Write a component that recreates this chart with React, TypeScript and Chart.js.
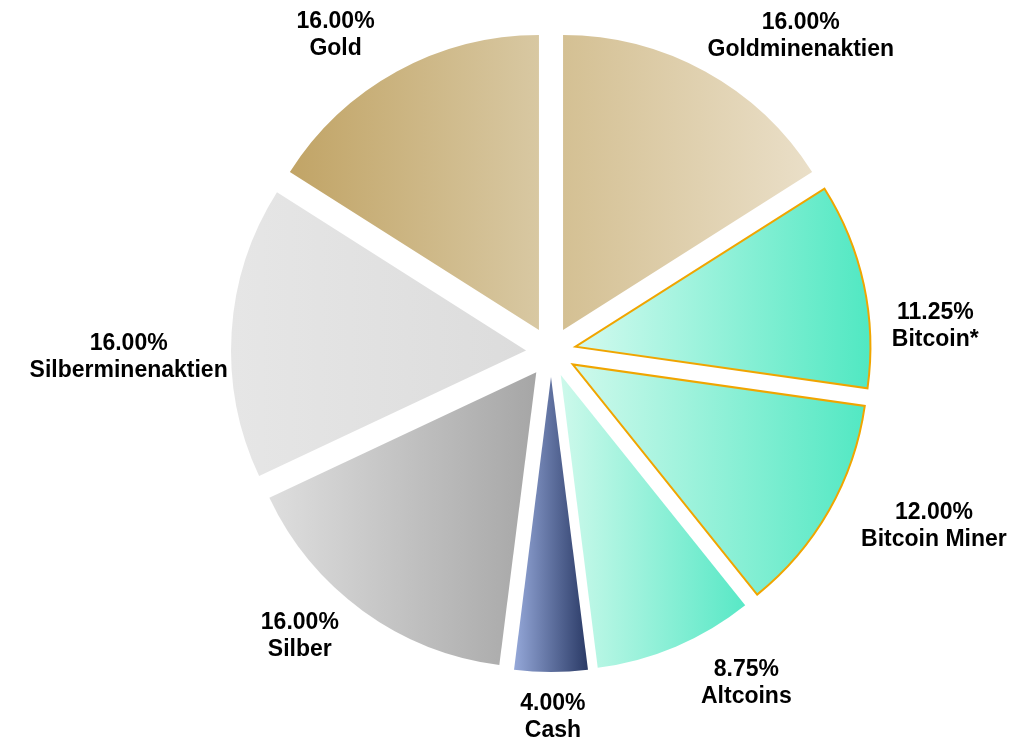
import React, { useEffect, useRef } from 'react';
import { Chart, registerables } from 'chart.js';

Chart.register(...registerables);

const categories = ['Goldminenaktien', 'Bitcoin*', 'Bitcoin Miner', 'Altcoins', 'Cash', 'Silber', 'Silberminenaktien', 'Gold'];
const shares = [16, 11.25, 12, 8.75, 4, 16, 16, 16];

const gradientLeft = ['#d4c093', '#d3faef', '#cff9ec', '#cdf9eb', '#95a8d9', '#dedede', '#e6e6e6', '#c1a466'];
const gradientRight = ['#eadfc8', '#50e8c2', '#52e8c3', '#58e8c6', '#2a3a66', '#a6a6a6', '#dcdcdc', '#d8c8a2'];
const borderColors = ['#ffffff', '#f0a500', '#f0a500', '#ffffff', '#ffffff', '#ffffff', '#ffffff', '#ffffff'];
const borderWidths = [0, 2, 2, 0, 0, 0, 0, 0];

const RADIUS = 295;
const EXPLODE = 25;
const LABEL_BASE = 338;
const LABEL_NUDGE_DEG = [9.5, 8.3, -5.3, -7.6, -0.3, 5.5, -4.3, -5.4];
const LABEL_PULL = [-14, 2, 5, 0, 0, -5, -15, 1];
const FONT = 'bold 23px "Liberation Sans", Arial, sans-serif';
const LINE_H = 27;

const total = shares.reduce((a, b) => a + b, 0);

function sliceGeom(chart: any, i: number) {
  const area = chart.chartArea;
  const cx = (area.left + area.right) / 2;
  const cy = (area.top + area.bottom) / 2;
  let cum = 0;
  for (let k = 0; k < i; k++) cum += shares[k];
  const start = -Math.PI / 2 + (cum / total) * Math.PI * 2;
  const end = start + (shares[i] / total) * Math.PI * 2;
  const mid = (start + end) / 2;
  const ox = cx + Math.cos(mid) * EXPLODE;
  const xs = [ox, ox + RADIUS * Math.cos(start), ox + RADIUS * Math.cos(end)];
  for (const a of [-Math.PI, 0, Math.PI, 2 * Math.PI]) {
    if (a >= start && a <= end) xs.push(ox + RADIUS * Math.cos(a));
  }
  return { minX: Math.min(...xs), maxX: Math.max(...xs) };
}

const explodePlugin = {
  id: 'explodeSlices',
  beforeDatasetDraw(chart: any, args: any) {
    const meta = chart.getDatasetMeta(args.index);
    meta.data.forEach((arc: any) => {
      const mid = (arc.startAngle + arc.endAngle) / 2;
      arc.x += Math.cos(mid) * EXPLODE;
      arc.y += Math.sin(mid) * EXPLODE;
    });
  },
  afterDatasetDraw(chart: any, args: any) {
    const meta = chart.getDatasetMeta(args.index);
    meta.data.forEach((arc: any) => {
      const mid = (arc.startAngle + arc.endAngle) / 2;
      arc.x -= Math.cos(mid) * EXPLODE;
      arc.y -= Math.sin(mid) * EXPLODE;
    });
  },
};

const labelPlugin = {
  id: 'outerLabels',
  afterDatasetsDraw(chart: any) {
    const ctx = chart.ctx;
    const meta = chart.getDatasetMeta(0);
    ctx.save();
    ctx.font = FONT;
    ctx.fillStyle = '#000000';
    ctx.textAlign = 'center';
    ctx.textBaseline = 'middle';
    meta.data.forEach((arc: any, i: number) => {
      const l1 = shares[i].toFixed(2) + '%';
      const l2 = categories[i];
      const w = Math.max(ctx.measureText(l1).width, ctx.measureText(l2).width);
      const phi = (arc.startAngle + arc.endAngle) / 2 + (LABEL_NUDGE_DEG[i] * Math.PI) / 180;
      const c = Math.cos(phi);
      const s = Math.sin(phi);
      const extent = Math.abs(c) * (w / 2) + Math.abs(s) * LINE_H;
      const d = LABEL_BASE + extent + LABEL_PULL[i];
      const x = arc.x + c * d;
      const y = arc.y + s * d;
      ctx.fillText(l1, x, y - LINE_H / 2);
      ctx.fillText(l2, x, y + LINE_H / 2);
    });
    ctx.restore();
  },
};

export default function App() {
  const ref = useRef<HTMLCanvasElement | null>(null);
  useEffect(() => {
    if (!ref.current) return;
    const chart = new Chart(ref.current, {
      type: 'pie',
      data: {
        labels: categories,
        datasets: [
          {
            data: shares,
            backgroundColor: (context: any) => {
              const i = context.dataIndex ?? 0;
              const chart = context.chart;
              if (!chart.chartArea) return gradientLeft[i];
              const g = sliceGeom(chart, i);
              const grad = chart.ctx.createLinearGradient(g.minX, 0, g.maxX, 0);
              grad.addColorStop(0, gradientLeft[i]);
              grad.addColorStop(1, gradientRight[i]);
              return grad;
            },
            borderColor: borderColors,
            borderWidth: borderWidths,
            borderJoinStyle: 'miter',
          } as any,
        ],
      },
      options: {
        responsive: false,
        animation: false,
        devicePixelRatio: 1,
        events: [],
        radius: RADIUS,
        layout: { padding: { left: 77, right: 0, top: 0, bottom: 39 } },
        plugins: {
          legend: { display: false },
          tooltip: { enabled: false },
          title: { display: false },
        },
      } as any,
      plugins: [explodePlugin, labelPlugin],
    });
    return () => chart.destroy();
  }, []);
  return (
    <div style={{ position: 'absolute', left: 0, top: 0, width: 1025, height: 743, background: '#ffffff' }}>
      <canvas ref={ref} width={1025} height={743} style={{ display: 'block' }} />
    </div>
  );
}
